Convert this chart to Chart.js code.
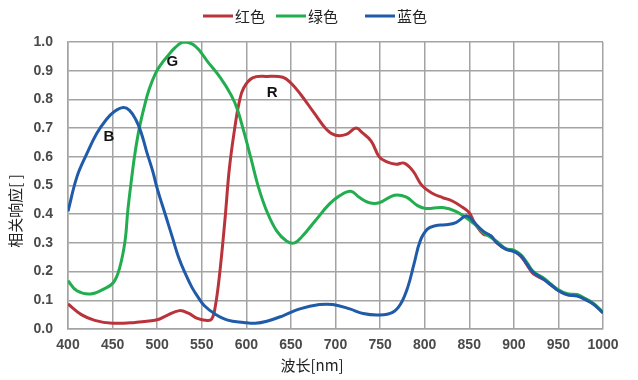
<!DOCTYPE html>
<html lang="zh">
<head>
  <meta charset="UTF-8">
  <title>相关响应曲线</title>
  <script src="https://cdn.jsdelivr.net/npm/chart.js"></script>
  <style>
    html, body { margin: 0; padding: 0; background: #ffffff; }
    #wrap { width: 638px; height: 380px; position: relative; }
  </style>
</head>
<body>
  <div id="wrap"><canvas id="spectrum" width="638" height="380"></canvas></div>

  <script>
    // wavelength (nm) / response
    const redNm = [400, 415, 430, 450, 475, 500, 510, 525, 535, 545, 556, 561, 565, 570, 576, 581, 587, 592, 597, 607, 623, 641, 650, 661, 676, 690, 700, 712, 723, 730, 740, 749, 757, 768, 777, 787, 797, 809, 820, 831, 842, 850, 856,
                   866, 874, 881, 891, 900, 908, 915, 922, 934, 941, 950, 960, 971, 979, 989, 1000];
    const redVal = [0.087, 0.05, 0.03, 0.02, 0.023, 0.032, 0.046, 0.064, 0.055, 0.037, 0.03, 0.034, 0.075, 0.19, 0.38, 0.56, 0.70, 0.79, 0.84, 0.875, 0.88, 0.877, 0.857, 0.817, 0.753, 0.695, 0.675, 0.678, 0.70, 0.684, 0.655, 0.60, 0.583, 0.574, 0.578, 0.55, 0.50, 0.472, 0.458, 0.446, 0.425, 0.405, 0.37,
                    0.33, 0.325, 0.30, 0.278, 0.272, 0.253, 0.222, 0.192, 0.172, 0.155, 0.134, 0.12, 0.117, 0.106, 0.088, 0.057];

    const greenNm = [400, 410, 425, 440, 451, 458, 464, 467, 471, 475, 480, 486, 491, 498, 505, 512, 520, 530, 543, 557, 571, 583, 590, 597, 605, 614, 623, 634, 645, 654, 663, 678, 693, 704, 717, 727, 738, 749, 766, 779, 792, 801, 820, 835, 850, 856,
                     866, 874, 881, 891, 900, 908, 915, 922, 934, 941, 950, 960, 971, 979, 989, 1000];
    const greenVal = [0.168, 0.133, 0.122, 0.139, 0.162, 0.214, 0.307, 0.41, 0.516, 0.61, 0.70, 0.78, 0.835, 0.89, 0.925, 0.952, 0.98, 1.0, 0.985, 0.93, 0.875, 0.815, 0.765, 0.69, 0.597, 0.49, 0.41, 0.342, 0.307, 0.30, 0.324, 0.38, 0.435, 0.463, 0.48, 0.458, 0.44, 0.44, 0.466, 0.46, 0.43, 0.42, 0.423, 0.41, 0.38, 0.365,
                      0.335, 0.32, 0.305, 0.28, 0.275, 0.258, 0.23, 0.2, 0.176, 0.158, 0.137, 0.123, 0.12, 0.108, 0.09, 0.058];

    const blueNm = [400, 410, 421, 432, 443, 452, 462, 469, 476, 482, 488, 495, 500, 510, 517, 524, 532, 539, 546, 553, 565, 579, 597, 610, 623, 641, 660, 682, 697, 716, 731, 749, 764, 773, 781, 788, 795, 803, 812, 823, 835, 846, 850, 856,
                    866, 874, 881, 891, 900, 908, 915, 922, 934, 941, 950, 960, 971, 979, 989, 1000];
    const blueVal = [0.41, 0.53, 0.61, 0.68, 0.73, 0.758, 0.772, 0.762, 0.73, 0.685, 0.62, 0.55, 0.49, 0.39, 0.32, 0.25, 0.19, 0.145, 0.11, 0.081, 0.052, 0.031, 0.023, 0.02, 0.027, 0.046, 0.07, 0.085, 0.085, 0.07, 0.054, 0.049, 0.058, 0.087, 0.145, 0.226, 0.307, 0.348, 0.36, 0.363, 0.371, 0.394, 0.39, 0.37,
                     0.34, 0.325, 0.30, 0.278, 0.27, 0.255, 0.225, 0.197, 0.172, 0.155, 0.133, 0.119, 0.115, 0.104, 0.087, 0.056];

    const seriesNames = ['红色', '绿色', '蓝色'];
    const seriesColors = ['#b9343a', '#22ad4f', '#1f5ba8'];

    // curve letters placed in data coordinates
    const markLetters = ['B', 'G', 'R'];
    const markNm = [446, 517, 629];
    const markVal = [0.67, 0.93, 0.822];

    const xTitle = '波长[nm]';
    const yTitle = '相关响应[ ]';

    const toPoints = (xs, ys) => xs.map((x, i) => ({ x: x, y: ys[i] }));

    const cjk = '"Noto Sans CJK SC", "Noto Sans", sans-serif';
    const tickFont = { family: '"Liberation Sans", Arial, sans-serif', size: 14, weight: 'bold' };

    // legend, axis titles and curve letters
    const textPlugin = {
      id: 'textPlugin',
      afterDraw(chart) {
        const c = chart.ctx;
        const xs = chart.scales.x, ys = chart.scales.y;
        c.save();

        // legend
        const legendX = [203, 276, 365];
        c.font = '15px ' + cjk;
        c.textBaseline = 'middle';
        c.textAlign = 'left';
        seriesNames.forEach((name, i) => {
          c.strokeStyle = seriesColors[i];
          c.lineWidth = 3;
          c.beginPath();
          c.moveTo(legendX[i], 16);
          c.lineTo(legendX[i] + 30, 16);
          c.stroke();
          c.fillStyle = '#222';
          c.fillText(name, legendX[i] + 32, 16);
        });

        // x title
        c.textAlign = 'center';
        c.fillStyle = '#222';
        c.fillText(xTitle, 312, 365);

        // y title
        c.save();
        c.translate(15, 211);
        c.rotate(-Math.PI / 2);
        c.fillText(yTitle, 0, 0);
        c.restore();

        // letters
        c.font = 'bold 15px "Liberation Sans", Arial, sans-serif';
        c.fillStyle = '#111';
        markLetters.forEach((t, i) => {
          c.fillText(t, xs.getPixelForValue(markNm[i]), ys.getPixelForValue(markVal[i]));
        });
        c.restore();
      }
    };

    const ctx = document.getElementById('spectrum').getContext('2d');
    const chart = new Chart(ctx, {
      type: 'line',
      data: {
        datasets: [
          { label: seriesNames[0], data: toPoints(redNm, redVal), borderColor: seriesColors[0], order: 3 },
          { label: seriesNames[1], data: toPoints(greenNm, greenVal), borderColor: seriesColors[1], order: 2 },
          { label: seriesNames[2], data: toPoints(blueNm, blueVal), borderColor: seriesColors[2], order: 1 }
        ]
      },
      options: {
        responsive: false,
        animation: false,
        layout: { padding: { top: 42, right: 35, left: 0, bottom: 0 } },
        elements: {
          line: { borderWidth: 3, tension: 0.4, fill: false },
          point: { radius: 0, hoverRadius: 0 }
        },
        plugins: {
          legend: { display: false },
          tooltip: { enabled: false }
        },
        scales: {
          x: {
            type: 'linear',
            min: 400,
            max: 1000,
            afterFit: s => { s.height = 51; },
            ticks: { stepSize: 50, padding: 8, color: '#4a4a4a', font: tickFont, maxRotation: 0, callback: v => String(v) },
            grid: { color: '#a3a3a3', lineWidth: 1.5, drawTicks: false },
            border: { color: '#a3a3a3', width: 1.5 }
          },
          y: {
            min: 0,
            max: 1,
            afterFit: s => { s.width = 68; },
            ticks: { stepSize: 0.1, padding: 15, color: '#4a4a4a', font: tickFont, callback: v => v.toFixed(1) },
            grid: { color: '#a3a3a3', lineWidth: 1.5, drawTicks: false },
            border: { color: '#a3a3a3', width: 1.5 }
          }
        }
      },
      plugins: [textPlugin]
    });
  </script>
</body>
</html>
